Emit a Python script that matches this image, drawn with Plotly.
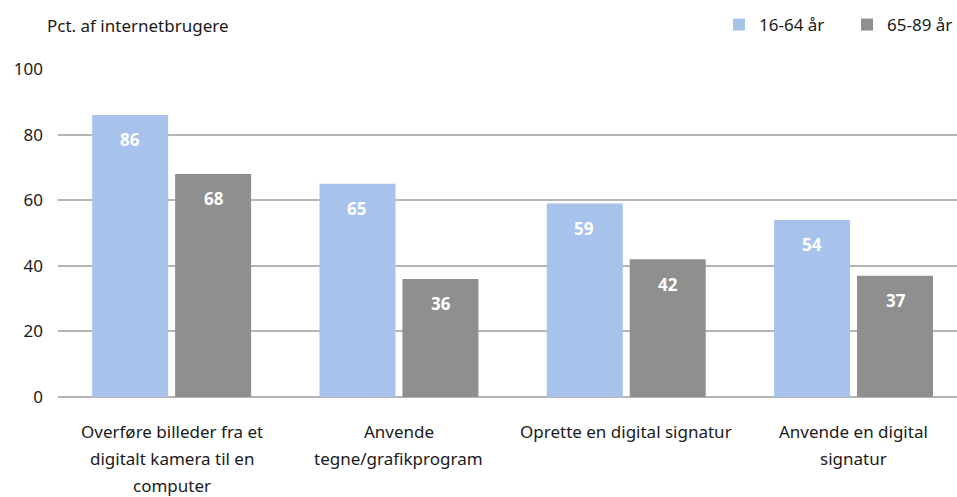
import plotly.graph_objects as go

categories = [
    "Overføre billeder fra et<br>digitalt kamera til en<br>computer",
    "Anvende<br>tegne/grafikprogram",
    "Oprette en digital signatur",
    "Anvende en digital<br>signatur",
]
young = [86, 65, 59, 54]
old = [68, 36, 42, 37]
series_names = ["16-64 år", "65-89 år"]
colors = ["#a7c3ec", "#8f8f8f"]
y_ticks = [0, 20, 40, 60, 80, 100]

FONT = "Noto Sans"
TXT = "#1a1a1a"
W, H = 957, 497
L, R, T, B = 58, 0, 69, 100
plot_w, plot_h = W - L - R, H - T - B
cat_px = 227.3  # pixel width of one category slot


def px_x(px):
    return (px - L) / plot_w


def px_y(py):
    return (H - B - py) / plot_h


fig = go.Figure()
for name, vals, col in zip(series_names, [young, old], colors):
    fig.add_trace(go.Bar(
        x=list(range(len(categories))), y=vals, name=name,
        marker=dict(color=col, line=dict(width=0)),
    ))

# value labels just below the top of each bar
for vals, off in [(young, -0.185), (old, 0.185)]:
    for j, v in enumerate(vals):
        fig.add_annotation(
            x=j + off, y=v, xref="x", yref="y", text=f"<b>{v}</b>",
            showarrow=False, yshift=-25, yanchor="middle",
            font=dict(family=FONT, size=17, color="white"),
        )

# multi-line category labels under the axis
for j, cat in enumerate(categories):
    for k, line in enumerate(cat.split("<br>")):
        fig.add_annotation(
            x=j, y=0, xref="x", yref="y", text=line, showarrow=False,
            yanchor="middle", yshift=-34 - 27 * k,
            font=dict(family=FONT, size=17, color=TXT),
        )

fig.add_annotation(
    x=px_x(45), y=px_y(25), xref="paper", yref="paper",
    text="Pct. af internetbrugere", showarrow=False,
    xanchor="left", yanchor="middle",
    font=dict(family=FONT, size=17, color=TXT),
)

fig.update_layout(
    width=W, height=H,
    margin=dict(l=L, r=R, t=T, b=B, pad=0, autoexpand=False),
    paper_bgcolor="white", plot_bgcolor="white",
    barmode="group", bargap=0.27, bargroupgap=0.084,
    font=dict(family=FONT, size=17, color=TXT),
    showlegend=True,
    legend=dict(
        orientation="h", x=px_x(719), xanchor="left", y=px_y(25),
        yanchor="middle", font=dict(family=FONT, size=17, color=TXT),
        traceorder="normal", itemwidth=30, entrywidth=83,
    ),
    xaxis=dict(
        range=[-0.5, -0.5 + plot_w / cat_px], showgrid=False, ticks="",
        showline=False, showticklabels=False, zeroline=False,
    ),
    yaxis=dict(
        range=[0, 100], tickvals=y_ticks, showgrid=True,
        gridcolor="#b5b5b5", gridwidth=2, zeroline=True,
        zerolinecolor="#b5b5b5", zerolinewidth=2, ticks="",
        ticklabelstandoff=14,
        tickfont=dict(family=FONT, size=17, color=TXT),
    ),
)

fig.write_html("out.html")
